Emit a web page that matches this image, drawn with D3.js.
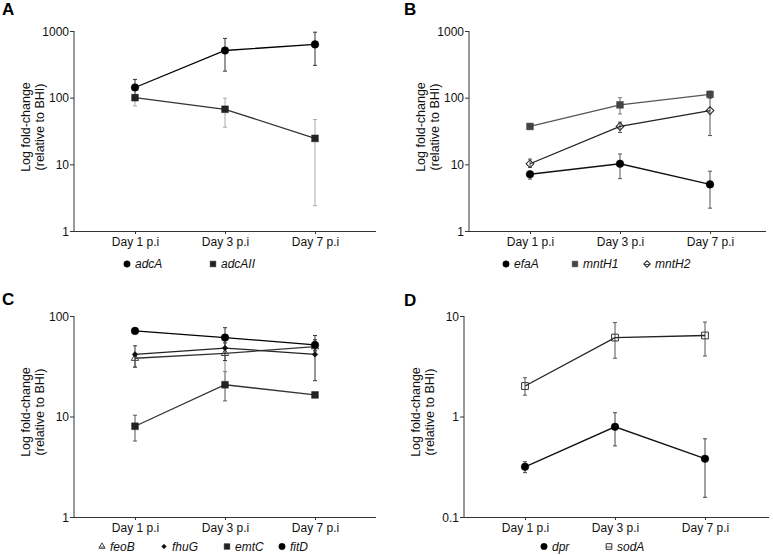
<!DOCTYPE html>
<html>
<head>
<meta charset="utf-8">
<script src="https://cdn.jsdelivr.net/npm/d3@7"></script>
<style>
  body { margin: 0; background: #fff; }
  text { font-family: "Liberation Sans", Arial, sans-serif; }
</style>
</head>
<body>
<div id="fig"></div>
<script>
const W = 773, H = 555

// categories shared by all four panels
const days = ["Day 1 p.i", "Day 3 p.i", "Day 7 p.i"]

// panel A
const adcA_mean = [142, 510, 630]
const adcA_hi = [188, 775, 960]
const adcA_lo = [110, 250, 305]
const adcAII_mean = [100, 67, 24.5]
const adcAII_hi = [110, 98, 47]
const adcAII_lo = [75, 36, 2.4]

// panel B
const efaA_mean = [7.1, 10.2, 5.0]
const efaA_hi = [7.8, 14.3, 7.9]
const efaA_lo = [6.0, 6.1, 2.2]
const mntH1_mean = [37, 78, 112]
const mntH1_hi = [39, 100, 125]
const mntH1_lo = [35, 57, 98]
const mntH2_mean = [10.2, 37, 64]
const mntH2_hi = [12, 43, 100]
const mntH2_lo = [9, 30, 27]

// panel C
const feoB_mean = [38, 42.5, 49.5]
const feoB_hi = [42, 48, 56]
const feoB_lo = [31, 28, 45]
const fhuG_mean = [41.5, 48, 41.5]
const fhuG_hi = [50.5, 54, 58]
const fhuG_lo = [31, 36, 22.7]
const emtC_mean = [8.0, 20.7, 16.4]
const emtC_hi = [10.3, 28, 17]
const emtC_lo = [5.7, 14.3, 15.8]
const fitD_mean = [71, 61, 51.5]
const fitD_hi = [74, 76.5, 64]
const fitD_lo = [68, 48, 45]

// panel D
const dpr_mean = [0.316, 0.79, 0.38]
const dpr_hi = [0.355, 1.09, 0.60]
const dpr_lo = [0.276, 0.51, 0.157]
const sodA_mean = [2.01, 6.1, 6.4]
const sodA_hi = [2.43, 8.6, 8.7]
const sodA_lo = [1.63, 3.8, 4.0]

const yTicksA = [1, 10, 100, 1000]
const yTicksC = [1, 10, 100]
const yTicksD = [0.1, 1, 10]

// build series rows from the arrays above
const rows = (mean, hi, lo) => days.map((d, i) => ({day: d, v: mean[i], hi: hi[i], lo: lo[i]}))

const panels = [
  {label: "A", lx: 2, ly: 15, x0: 74, x1: 376, yTop: 31, yBot: 231, ticks: yTicksA,
   legendX: [53, 139], legendDy: 33,
   series: [
     {name: "adcAII", shape: "square", fill: "#222", stroke: "#222", line: "#333", err: "#aaa", size: 46, data: rows(adcAII_mean, adcAII_hi, adcAII_lo)},
     {name: "adcA", shape: "circle", fill: "#000", stroke: "#000", line: "#000", err: "#333", size: 46, data: rows(adcA_mean, adcA_hi, adcA_lo)}
   ], legendOrder: ["adcA", "adcAII"]},
  {label: "B", lx: 404, ly: 15, x0: 469, x1: 766, yTop: 31, yBot: 231, ticks: yTicksA,
   legendX: [37, 106, 178], legendDy: 33,
   series: [
     {name: "efaA", shape: "circle", fill: "#000", stroke: "#000", line: "#111", err: "#555", size: 46, data: rows(efaA_mean, efaA_hi, efaA_lo)},
     {name: "mntH1", shape: "square", fill: "#444", stroke: "#444", line: "#555", err: "#777", size: 46, data: rows(mntH1_mean, mntH1_hi, mntH1_lo)},
     {name: "mntH2", shape: "diamond", fill: "none", stroke: "#222", line: "#222", err: "#555", size: 30, data: rows(mntH2_mean, mntH2_hi, mntH2_lo)}
   ], legendOrder: ["efaA", "mntH1", "mntH2"]},
  {label: "C", lx: 2, ly: 305, x0: 74, x1: 376, yTop: 316, yBot: 517, ticks: yTicksC,
   legendX: [28, 90, 153, 208], legendDy: 29.5,
   series: [
     {name: "emtC", shape: "square", fill: "#222", stroke: "#222", line: "#333", err: "#555", size: 46, data: rows(emtC_mean, emtC_hi, emtC_lo)},
     {name: "feoB", shape: "triangle", fill: "none", stroke: "#444", line: "#333", err: "#888", size: 24, data: rows(feoB_mean, feoB_hi, feoB_lo)},
     {name: "fhuG", shape: "diamond", fill: "#111", stroke: "#111", line: "#222", err: "#333", size: 16, data: rows(fhuG_mean, fhuG_hi, fhuG_lo)},
     {name: "fitD", shape: "circle", fill: "#000", stroke: "#000", line: "#000", err: "#333", size: 46, data: rows(fitD_mean, fitD_hi, fitD_lo)}
   ], legendOrder: ["feoB", "fhuG", "emtC", "fitD"]},
  {label: "D", lx: 404, ly: 306, x0: 464, x1: 769, yTop: 316, yBot: 517, ticks: yTicksD,
   legendX: [80, 145], legendDy: 29.5,
   series: [
     {name: "dpr", shape: "circle", fill: "#000", stroke: "#000", line: "#111", err: "#444", size: 46, data: rows(dpr_mean, dpr_hi, dpr_lo)},
     {name: "sodA", shape: "square", fill: "none", stroke: "#333", line: "#222", err: "#555", size: 46, data: rows(sodA_mean, sodA_hi, sodA_lo)}
   ], legendOrder: ["dpr", "sodA"]}
]

const shapes = {circle: d3.symbolCircle, square: d3.symbolSquare, diamond: d3.symbolSquare, triangle: d3.symbolTriangle}
const symbolPath = (s, k) => d3.symbol().type(shapes[s.shape]).size(s.size * k)()

const svg = d3.select("#fig").append("svg")
  .attr("width", W).attr("height", H)

function drawMarker(g, s, x, y, k = 1) {
  return g.append("path")
    .attr("d", symbolPath(s, k))
    .attr("fill", s.fill)
    .attr("stroke", s.stroke)
    .attr("stroke-width", s.fill == "none" ? 1 : 0.5)
    .attr("transform", `translate(${x},${y})` + (s.shape == "diamond" ? " rotate(45)" : ""))
}

panels.forEach(p => {
  const g = svg.append("g")

  const x = d3.scalePoint().domain(days).range([p.x0 + 61, p.x0 + 241])
  const y = d3.scaleLog().domain([p.ticks[0], p.ticks[p.ticks.length - 1]]).range([p.yBot, p.yTop])

  // axes
  const ya = g.append("g").attr("transform", `translate(${p.x0},0)`)
    .call(d3.axisLeft(y).tickValues(p.ticks).tickSize(4).tickSizeOuter(0).tickFormat(d => d < 1 ? d3.format(".1f")(d) : d3.format("d")(d)))
  const xa = g.append("g").attr("transform", `translate(0,${p.yBot})`)
    .call(d3.axisBottom(x).tickSize(3).tickSizeOuter(0))
  xa.select(".domain").attr("d", `M${p.x0},0.5H${p.x1}`)
  ya.select(".domain").attr("d", `M-0,${p.yTop}V${p.yBot}`)
  ;[ya, xa].forEach(a => {
    a.selectAll(".domain, line").attr("stroke", "#333")
    a.selectAll("text").attr("font-size", 12).attr("fill", "#111")
      .attr("font-family", "Liberation Sans, Arial, sans-serif")
  })
  ya.selectAll("text").attr("x", -5).attr("dy", "0.36em")
  xa.selectAll("text").attr("y", 6).attr("dy", "0.75em")

  // y title
  const cy = p.yTop + 96
  const title = g.append("text").attr("transform", `translate(${p.x0 - 44},${cy}) rotate(-90)`)
    .attr("text-anchor", "middle").attr("font-size", 12.5).attr("fill", "#111")
  title.append("tspan").attr("x", 0).attr("y", 0).text("Log fold-change")
  title.append("tspan").attr("x", 0).attr("y", 14).text("(relative to BHI)")

  // panel letter
  g.append("text").attr("x", p.lx).attr("y", p.ly)
    .attr("font-size", 17).attr("font-weight", "bold").text(p.label)

  // error bars
  p.series.forEach(s => {
    const eb = g.append("g").attr("stroke", s.err).attr("stroke-width", 1)
    s.data.forEach(d => {
      const cx = x(d.day)
      eb.append("line").attr("x1", cx).attr("x2", cx).attr("y1", y(d.hi)).attr("y2", y(d.lo))
      eb.append("line").attr("x1", cx - 2).attr("x2", cx + 2).attr("y1", y(d.hi)).attr("y2", y(d.hi))
      eb.append("line").attr("x1", cx - 2).attr("x2", cx + 2).attr("y1", y(d.lo)).attr("y2", y(d.lo))
    })
  })

  // lines
  const line = d3.line().x(d => x(d.day)).y(d => y(d.v))
  p.series.forEach(s => {
    g.append("path").datum(s.data).attr("d", line)
      .attr("fill", "none").attr("stroke", s.line).attr("stroke-width", 1.3)
  })

  // markers
  p.series.forEach(s => {
    s.data.forEach(d => drawMarker(g, s, x(d.day), y(d.v)))
  })

  // legend
  const ly = p.yBot + p.legendDy
  p.legendOrder.forEach((name, i) => {
    const s = p.series.find(t => t.name == name)
    const lx = p.x0 + p.legendX[i]
    drawMarker(g, s, lx, ly, 0.7)
    if (s.fill == "none") {
      g.append("line").attr("x1", lx - 3).attr("x2", lx + 3).attr("y1", ly + 0.5).attr("y2", ly + 0.5)
        .attr("stroke", s.stroke).attr("stroke-width", 0.8)
    }
    g.append("text").attr("x", lx + 8).attr("y", ly + 4.2)
      .attr("font-size", 12).attr("font-style", "italic").attr("fill", "#111").text(name)
  })
})
</script>
</body>
</html>
